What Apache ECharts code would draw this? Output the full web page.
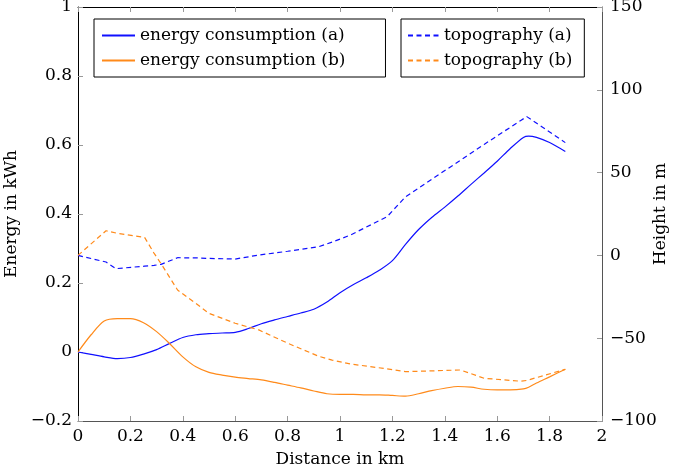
<!DOCTYPE html>
<html>
<head>
<meta charset="utf-8">
<script src="https://cdn.jsdelivr.net/npm/echarts@6/dist/echarts.min.js"></script>
<style>html,body{margin:0;padding:0;background:#fff;}#c{width:685px;height:469px;}</style>
</head>
<body>
<div id="c"></div>
<script>
// Energy consumption (kWh) over distance (km)
var distanceEnergy = [0, 0.05, 0.1, 0.15, 0.2, 0.25, 0.3, 0.35, 0.4, 0.45, 0.5, 0.55, 0.6, 0.65, 0.7, 0.75, 0.8, 0.85, 0.9, 0.95, 1.0, 1.05, 1.1, 1.15, 1.2, 1.25, 1.3, 1.35, 1.4, 1.45, 1.5, 1.55, 1.6, 1.65, 1.7, 1.72, 1.75, 1.8, 1.86];
var energyA = [0, -0.007, -0.014, -0.019, -0.016, -0.006, 0.007, 0.025, 0.042, 0.05, 0.053, 0.055, 0.057, 0.068, 0.082, 0.093, 0.103, 0.113, 0.124, 0.145, 0.172, 0.195, 0.215, 0.237, 0.265, 0.312, 0.355, 0.39, 0.42, 0.452, 0.486, 0.519, 0.553, 0.59, 0.622, 0.626, 0.622, 0.607, 0.581];
var energyB = [0, 0.05, 0.09, 0.097, 0.097, 0.085, 0.059, 0.024, -0.014, -0.043, -0.059, -0.067, -0.073, -0.077, -0.081, -0.088, -0.096, -0.104, -0.113, -0.121, -0.123, -0.123, -0.124, -0.124, -0.126, -0.128, -0.121, -0.112, -0.105, -0.1, -0.102, -0.108, -0.11, -0.11, -0.107, -0.102, -0.09, -0.072, -0.05];
// Topography (m) over distance (km)
var distanceTopo = [0, 0.107, 0.145, 0.254, 0.29, 0.317, 0.38, 0.45, 0.5, 0.6, 0.69, 0.8, 0.92, 0.97, 1.04, 1.18, 1.25, 1.46, 1.55, 1.69, 1.713, 1.86];
var topoA = [0, -4, -8, -6.5, -6, -5.4, -1.4, -1.5, -1.8, -2.2, 0.2, 2.5, 5.3, 8, 12.3, 23.4, 35.4, 57.5, 67, 81.5, 83.8, 68.1];
var topoB = [0, 14.9, 13.5, 10.9, 1.4, -5, -20.9, -29, -35, -41, -45, -53, -61, -63.2, -65.6, -68.5, -70.2, -69.2, -74.2, -76, -75.5, -68.8];

var xTicks = {min: 0, max: 2, interval: 0.2};
var yLeftTicks = {min: -0.2, max: 1, interval: 0.2};
var yRightTicks = {min: -100, max: 150, interval: 50};

function pairs(xs, ys) { return xs.map(function (x, i) { return [x, ys[i]]; }); }
function fmt(v) { var s = String(parseFloat(Number(v).toFixed(2))); return s.replace('-', '\u2212'); }

var FONT = 'DejaVu Serif';
var BLUE = '#1010ff';
var ORANGE = '#ff8a1a';
var labelStyle = {fontFamily: FONT, fontSize: 17, color: '#000'};

var chart = echarts.init(document.getElementById('c'), null, {renderer: 'canvas'});
chart.setOption({
  animation: false,
  backgroundColor: '#fff',
  textStyle: {fontFamily: FONT},
  grid: {left: 78, right: 83, top: 7, bottom: 48, containLabel: false, outerBoundsMode: 'none'},
  legend: [
    {
      data: ['energy consumption (a)', 'energy consumption (b)'],
      orient: 'vertical', left: 94, top: 19,
      borderColor: '#000', borderWidth: 1, borderRadius: 0,
      padding: [8, 40, 8, 7], itemGap: 8, itemWidth: 33, itemHeight: 14,
      itemStyle: {opacity: 0},
      textStyle: {fontFamily: FONT, fontSize: 17, color: '#000', lineHeight: 17}
    },
    {
      data: ['topography (a)', 'topography (b)'],
      orient: 'vertical', left: 401, top: 19,
      borderColor: '#000', borderWidth: 1, borderRadius: 0,
      padding: [8, 12, 8, 6], itemGap: 8, itemWidth: 31, itemHeight: 14,
      itemStyle: {opacity: 0},
      textStyle: {fontFamily: FONT, fontSize: 17, color: '#000', lineHeight: 17}
    }
  ],
  xAxis: [
    {
      type: 'value', min: xTicks.min, max: xTicks.max, interval: xTicks.interval,
      name: 'Distance in km', nameLocation: 'middle', nameGap: 30,
      nameTextStyle: labelStyle,
      axisLine: {show: true, onZero: false, lineStyle: {color: '#555', width: 1}},
      axisTick: {show: true, inside: true, length: 5, lineStyle: {color: '#999'}},
      axisLabel: {formatter: fmt, margin: 7, fontFamily: FONT, fontSize: 17, color: '#000'},
      splitLine: {show: false}
    },
    {
      type: 'value', position: 'top', min: xTicks.min, max: xTicks.max, interval: xTicks.interval,
      axisLine: {show: true, onZero: false, lineStyle: {color: '#000', width: 1}},
      axisTick: {show: true, inside: true, length: 5, lineStyle: {color: '#999'}},
      axisLabel: {show: false},
      splitLine: {show: false}
    }
  ],
  yAxis: [
    {
      type: 'value', position: 'left', min: yLeftTicks.min, max: yLeftTicks.max, interval: yLeftTicks.interval,
      name: 'Energy in kWh', nameLocation: 'middle', nameGap: 56, nameRotate: 90,
      nameTextStyle: labelStyle,
      axisLine: {show: true, onZero: false, lineStyle: {color: '#000', width: 1}},
      axisTick: {show: true, inside: true, length: 5, lineStyle: {color: '#999'}},
      axisLabel: {formatter: fmt, margin: 6, fontFamily: FONT, fontSize: 17, color: '#000'},
      splitLine: {show: false}
    },
    {
      type: 'value', position: 'right', min: yRightTicks.min, max: yRightTicks.max, interval: yRightTicks.interval,
      name: 'Height in m', nameLocation: 'middle', nameGap: 50, nameRotate: 90, nameMoveOverlap: false,
      nameTextStyle: labelStyle,
      axisLine: {show: true, onZero: false, lineStyle: {color: '#555', width: 1}},
      axisTick: {show: true, inside: true, length: 5, lineStyle: {color: '#999'}},
      axisLabel: {formatter: fmt, margin: 8, fontFamily: FONT, fontSize: 17, color: '#000'},
      splitLine: {show: false}
    }
  ],
  series: [
    {
      name: 'energy consumption (a)', type: 'line', xAxisIndex: 0, yAxisIndex: 0,
      data: pairs(distanceEnergy, energyA), showSymbol: false, symbol: 'none', smooth: 0.3,
      lineStyle: {color: BLUE, width: 1.2}, itemStyle: {color: BLUE}
    },
    {
      name: 'energy consumption (b)', type: 'line', xAxisIndex: 0, yAxisIndex: 0,
      data: pairs(distanceEnergy, energyB), showSymbol: false, symbol: 'none', smooth: 0.3,
      lineStyle: {color: ORANGE, width: 1.2}, itemStyle: {color: ORANGE}
    },
    {
      name: 'topography (a)', type: 'line', xAxisIndex: 0, yAxisIndex: 1,
      data: pairs(distanceTopo, topoA), showSymbol: false, symbol: 'none', smooth: false,
      lineStyle: {color: BLUE, width: 1.2, type: [5, 3.5]}, itemStyle: {color: BLUE}
    },
    {
      name: 'topography (b)', type: 'line', xAxisIndex: 0, yAxisIndex: 1,
      data: pairs(distanceTopo, topoB), showSymbol: false, symbol: 'none', smooth: false,
      lineStyle: {color: ORANGE, width: 1.2, type: [5, 3.5]}, itemStyle: {color: ORANGE}
    }
  ]
});
</script>
</body>
</html>
